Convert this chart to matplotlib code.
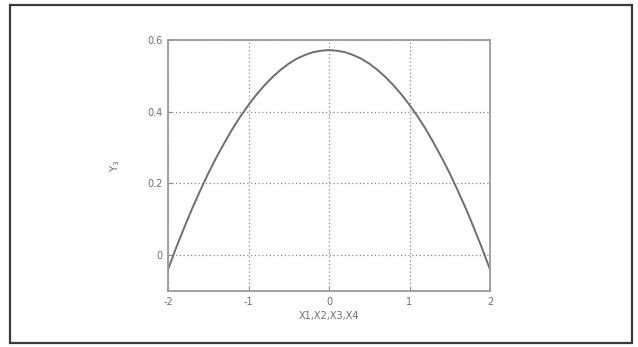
import matplotlib
matplotlib.use("Agg")
import matplotlib.pyplot as plt
from matplotlib.patches import Rectangle

plt.rcParams["axes.unicode_minus"] = False

# Response curve sampled along the shared input axis
x_vals = [-2.0, -1.9, -1.8, -1.7, -1.6, -1.5, -1.4, -1.3, -1.2, -1.1, -1.0,
          -0.9, -0.8, -0.7, -0.6, -0.5, -0.4, -0.3, -0.2, -0.1, 0.0,
          0.1, 0.2, 0.3, 0.4, 0.5, 0.6, 0.7, 0.8, 0.9, 1.0,
          1.1, 1.2, 1.3, 1.4, 1.5, 1.6, 1.7, 1.8, 1.9, 2.0]
y_vals = [-0.040, 0.020, 0.076, 0.130, 0.180, 0.228, 0.272, 0.313, 0.352, 0.387, 0.419,
          0.448, 0.474, 0.497, 0.517, 0.534, 0.548, 0.558, 0.566, 0.570, 0.572,
          0.570, 0.566, 0.558, 0.548, 0.534, 0.517, 0.497, 0.474, 0.448, 0.419,
          0.387, 0.352, 0.313, 0.272, 0.228, 0.180, 0.130, 0.076, 0.020, -0.040]

x_ticks = [-2, -1, 0, 1, 2]
y_ticks = [0, 0.2, 0.4, 0.6]
y_tick_labels = ["0", "0.2", "0.4", "0.6"]

fig = plt.figure(figsize=(6.38, 3.47), dpi=100)

# Outer frame around the whole figure
fig.patches.append(Rectangle((9.5 / 638, 1 - 343 / 347), 622 / 638, 338 / 347,
                             transform=fig.transFigure, fill=False,
                             edgecolor="#3a3a3a", linewidth=1.6))

ax = fig.add_axes([168 / 638, 1 - 291 / 347, 322 / 638, 251 / 347])
ax.plot(x_vals, y_vals, color="#6e6e6e", linewidth=1.4)

ax.set_xlim(-2, 2)
ax.set_ylim(-0.1, 0.6)
ax.set_xticks(x_ticks)
ax.set_yticks(y_ticks)
ax.set_yticklabels(y_tick_labels)
ax.grid(True, linestyle=(0, (1, 2)), color="#8a8a8a", linewidth=0.9)
ax.tick_params(direction="in", length=3, colors="#8a8a8a", labelcolor="#6e6e6e",
               labelsize=7, pad=4)
for s in ax.spines.values():
    s.set_color("#9a9a9a")
    s.set_linewidth(1.3)

ax.set_xlabel("X1,X2,X3,X4", fontsize=7, color="#6e6e6e", labelpad=3)
ax.set_ylabel("Y$_{\\mathregular{3}}$", fontsize=7.5, color="#6e6e6e", labelpad=18)

fig.savefig("out.png", dpi=100, facecolor="white")
